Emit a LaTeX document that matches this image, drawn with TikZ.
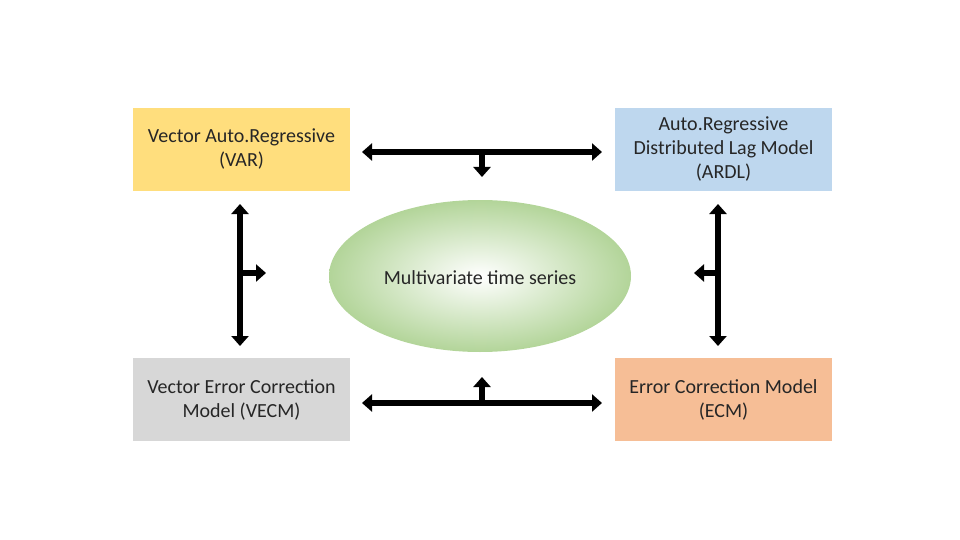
\documentclass[tikz,border=0pt]{standalone}
\usepackage{fontspec}
\setmainfont{Carlito}
\usetikzlibrary{arrows.meta,shapes.geometric}
\definecolor{yel}{RGB}{255,222,125}
\definecolor{blu}{RGB}{190,215,238}
\definecolor{gry}{RGB}{215,215,215}
\definecolor{org}{RGB}{246,190,150}
\definecolor{grn}{RGB}{165,205,135}
\begin{document}
\begin{tikzpicture}[x=1pt,y=-1pt,
  box/.style={draw=none,minimum width=217pt,minimum height=83pt,align=center,font=\fontsize{20}{24}\selectfont,text=black!85,inner sep=0pt},
  arr/.style={line width=6pt,-{Triangle[length=10pt,width=17pt]}},
  darr/.style={line width=6pt,{Triangle[length=10pt,width=17pt]}-{Triangle[length=10pt,width=17pt]}}]
\useasboundingbox (0,0) rectangle (960,540);
\node[box,fill=yel] (var) at (241.5,149.5) {Vector Auto.Regressive\\(VAR)};
\node[box,fill=blu] (ardl) at (723.5,149.5) {Auto.Regressive\\Distributed Lag Model\\(ARDL)};
\node[box,fill=gry] (vecm) at (241.5,399.5) {Vector Error Correction\\Model (VECM)};
\node[box,fill=org] (ecm) at (723.5,399.5) {Error Correction Model\\(ECM)};
\node[ellipse,minimum width=302pt,minimum height=152pt,inner color=white,outer color=grn!85] (mts) at (480,276) {};
\node[font=\fontsize{20}{24}\selectfont,text=black!85] (lbl) at (480,278) {Multivariate time series};
% connectors
\coordinate (t1) at (362,152); \coordinate (t2) at (602,152); \coordinate (tm) at (482,152); \coordinate (te) at (482,177);
\coordinate (b1) at (362,403); \coordinate (b2) at (602,403); \coordinate (bm) at (482,403); \coordinate (be) at (482,377);
\coordinate (l1) at (240,204); \coordinate (l2) at (240,346); \coordinate (lm) at (240,273); \coordinate (le) at (266,273);
\coordinate (r1) at (718,204); \coordinate (r2) at (718,346); \coordinate (rm) at (718,273); \coordinate (re) at (694,273);
\draw[darr] (t1) -- (t2); \draw[arr] (tm) -- (te);
\draw[darr] (b1) -- (b2); \draw[arr] (bm) -- (be);
\draw[darr] (l1) -- (l2); \draw[arr] (lm) -- (le);
\draw[darr] (r1) -- (r2); \draw[arr] (rm) -- (re);
\end{tikzpicture}
\end{document}
